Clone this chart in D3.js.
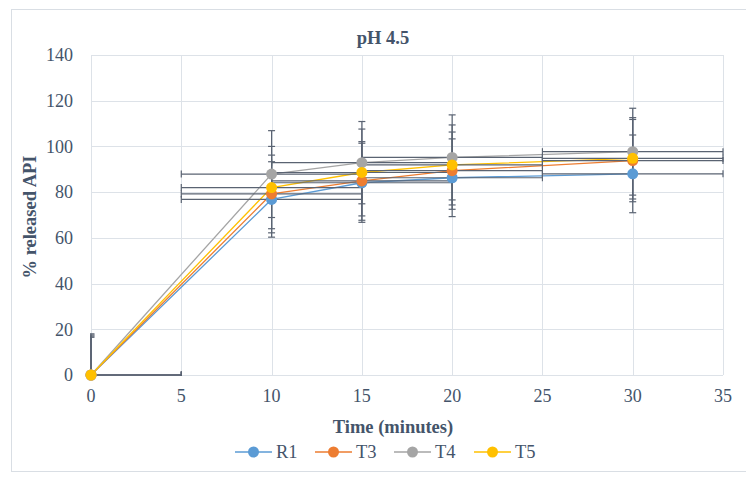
<!DOCTYPE html>
<html>
<head>
<meta charset="utf-8">
<script src="https://cdn.jsdelivr.net/npm/d3@7"></script>
<style>
  body { margin: 0; background: #fff; }
</style>
</head>
<body>
<div id="chart"></div>
<script>
const width = 746;
const height = 478;

// data
const times = [0, 10, 15, 20, 30];
const seriesNames = ["R1", "T3", "T4", "T5"];
const R1 = [0, 76.8, 84.1, 86.3, 88.0];
const T3 = [0, 79.2, 84.9, 89.4, 93.8];
const T4 = [0, 87.9, 92.9, 95.2, 97.7];
const T5 = [0, 82.0, 88.6, 91.9, 94.8];
const errR1 = [16.5, 16.5, 17.3, 17.0, 17.0];
const errT3 = [17.0, 17.0, 17.2, 16.9, 18.0];
const errT4 = [17.5, 19.0, 18.0, 18.6, 19.0];
const errT5 = [18.0, 18.0, 19.0, 17.5, 17.8];
const xErr = 5;
const xTicks = [0, 5, 10, 15, 20, 25, 30, 35];
const yTicks = [0, 20, 40, 60, 80, 100, 120, 140];

const colors = ["#5b9bd5", "#ed7d31", "#a5a5a5", "#ffc000"];
const series = [R1, T3, T4, T5].map((vals, i) => ({
	name: seriesNames[i],
	color: colors[i],
	points: times.map((t, j) => ({ t: t, v: vals[j], e: [errR1, errT3, errT4, errT5][i][j] }))
}));

const margin = { left: 91, right: 23, top: 55, bottom: 103 };
const font = "'Liberation Serif', 'Times New Roman', Times, serif";
const textColor = "#44546a";

const x = d3.scaleLinear().domain([0, 35]).range([margin.left, width - margin.right]);
const y = d3.scaleLinear().domain([0, 140]).range([height - margin.bottom, margin.top]);

let svg = d3.select("#chart").append("svg")
	.attr("width", width)
	.attr("height", height)
	.attr("font-family", font)
	.attr("fill", textColor);

// chart border
svg.append("rect")
	.attr("x", 11.5).attr("y", 9.5)
	.attr("width", 760).attr("height", 462)
	.attr("fill", "none")
	.attr("stroke", "#d9dee4");

svg.append("clipPath").attr("id", "plot")
	.append("rect")
	.attr("x", x(0) - 1).attr("y", y(140) - 1)
	.attr("width", x(35) - x(0) + 2).attr("height", y(0) - y(140) + 2);

// gridlines
let grid = svg.append("g");
grid.selectAll(".gy").data(yTicks).enter().append("line")
	.attr("x1", x(0)).attr("x2", x(35))
	.attr("y1", d => Math.round(y(d)) + 0.5).attr("y2", d => Math.round(y(d)) + 0.5)
	.attr("stroke", "#dde2e8");
grid.selectAll(".gx").data(xTicks).enter().append("line")
	.attr("y1", y(0)).attr("y2", y(140))
	.attr("x1", d => Math.round(x(d)) + 0.5).attr("x2", d => Math.round(x(d)) + 0.5)
	.attr("stroke", "#dde2e8");

// tick labels
svg.append("g").selectAll("text").data(yTicks).enter().append("text")
	.attr("x", 73).attr("y", d => y(d)).attr("dy", "0.35em")
	.attr("text-anchor", "end")
	.attr("font-size", 18)
	.text(d => d);
svg.append("g").selectAll("text").data(xTicks).enter().append("text")
	.attr("x", d => x(d)).attr("y", 402)
	.attr("text-anchor", "middle")
	.attr("font-size", 18)
	.text(d => d);

// titles
svg.append("text").attr("x", 383).attr("y", 44)
	.attr("text-anchor", "middle").attr("font-weight", "bold").attr("font-size", 18.5)
	.text("pH 4.5");
svg.append("text").attr("x", 393).attr("y", 433)
	.attr("text-anchor", "middle").attr("font-weight", "bold").attr("font-size", 18.5)
	.text("Time (minutes)");
svg.append("text")
	.attr("transform", "translate(36," + (y(70) + 2) + ") rotate(-90)")
	.attr("text-anchor", "middle").attr("font-weight", "bold").attr("font-size", 18.5)
	.text("% released API");

let plot = svg.append("g").attr("clip-path", "url(#plot)");

const line = d3.line().x(d => x(d.t)).y(d => y(d.v));

// series lines
plot.selectAll(".line").data(series).enter().append("path")
	.attr("d", d => line(d.points))
	.attr("fill", "none")
	.attr("stroke", d => d.color)
	.attr("stroke-width", 1.3);

// error bars
const errColor = "#5a6372";
const cap = 3.5;
series.forEach(s => {
	let g = plot.append("g").attr("stroke", errColor).attr("stroke-width", 1.2);
	s.points.forEach(p => {
		// vertical
		g.append("line").attr("x1", x(p.t)).attr("x2", x(p.t))
			.attr("y1", y(p.v - p.e)).attr("y2", y(p.v + p.e));
		[p.v - p.e, p.v + p.e].forEach(v => {
			g.append("line").attr("x1", x(p.t) - cap).attr("x2", x(p.t) + cap)
				.attr("y1", y(v)).attr("y2", y(v));
		});
		// horizontal
		g.append("line").attr("x1", x(p.t - xErr)).attr("x2", x(p.t + xErr))
			.attr("y1", y(p.v)).attr("y2", y(p.v));
		[p.t - xErr, p.t + xErr].forEach(t => {
			g.append("line").attr("x1", x(t)).attr("x2", x(t))
				.attr("y1", y(p.v) - cap).attr("y2", y(p.v) + cap);
		});
	});
});

// markers (not clipped, like the original)
series.forEach(s => {
	svg.append("g").selectAll("circle").data(s.points).enter().append("circle")
		.attr("cx", d => x(d.t)).attr("cy", d => y(d.v))
		.attr("r", 5.5)
		.attr("fill", s.color);
});

// legend
const legendX = [235, 315, 394, 474];
let legend = svg.append("g").selectAll("g").data(series).enter().append("g")
	.attr("transform", (d, i) => "translate(" + legendX[i] + ",452)");
legend.append("line").attr("x1", 0).attr("x2", 37).attr("y1", 0).attr("y2", 0)
	.attr("stroke", d => d.color).attr("stroke-width", 1.3);
legend.append("circle").attr("cx", 18.5).attr("cy", 0).attr("r", 5.5)
	.attr("fill", d => d.color);
legend.append("text").attr("x", 41).attr("y", 0).attr("dy", "0.35em")
	.attr("font-size", 18.5)
	.text(d => d.name);
</script>
</body>
</html>
